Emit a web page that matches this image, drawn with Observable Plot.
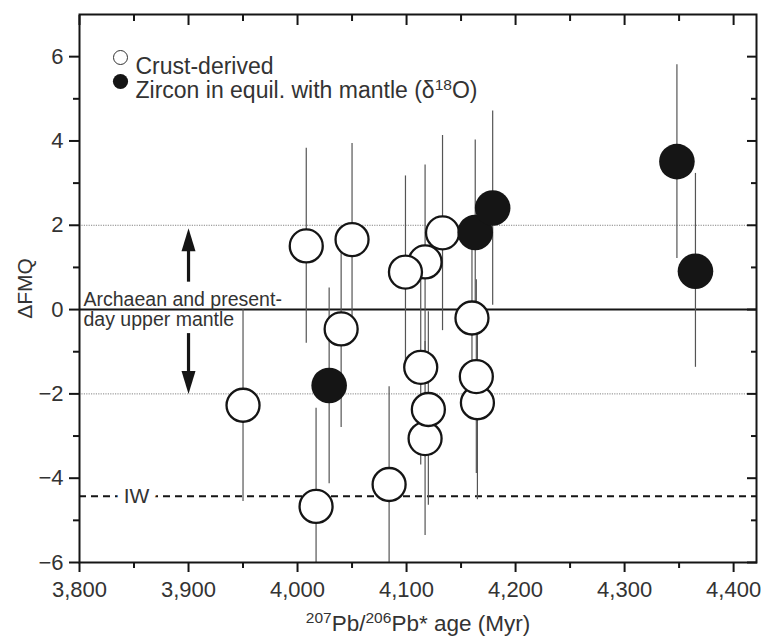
<!DOCTYPE html>
<html><head><meta charset="utf-8">
<script src="https://cdn.jsdelivr.net/npm/d3@7"></script>
<script src="https://cdn.jsdelivr.net/npm/@observablehq/plot@0.6"></script>
<style>body{margin:0;background:#fff}</style>
</head><body><div id="chart"></div>
<script>
// Crust-derived zircons (open circles), in drawing order
const crustAge = [3950, 4008, 4050, 4040, 4017, 4084, 4117, 4099, 4133, 4113, 4117, 4120, 4160, 4165, 4164];
const crustFMQ = [-2.27, 1.51, 1.66, -0.46, -4.67, -4.15, 1.13, 0.89, 1.82, -1.37, -3.06, -2.37, -0.20, -2.21, -1.59];
const crustLo  = [-4.55, -0.80, -0.70, -2.80, -7.0, -6.47, -1.17, -1.41, -0.50, -3.69, -5.36, -4.64, -2.48, -4.51, -3.89];
const crustHi  = [0.0, 3.83, 3.94, 1.83, -2.34, -1.83, 3.43, 3.17, 4.13, 0.95, -0.76, -0.05, 2.10, 0.09, 0.71];
// Zircons in equilibrium with mantle (filled circles)
const mantleAge = [4029, 4163, 4179, 4348, 4365];
const mantleFMQ = [-1.80, 1.83, 2.41, 3.51, 0.91];
const mantleLo  = [-4.13, -0.47, 0.10, 1.21, -1.37];
const mantleHi  = [0.51, 4.02, 4.71, 5.81, 3.23];
// Reference levels
const upperMantleLevel = 0;
const rangeLevels = [2, -2];
const iwLevel = -4.43;
const arrowAge = 3900;
const arrowUp = [0.65, 1.93];
const arrowDown = [-0.57, -2.0];
// Ticks
const xMajor = [3800, 3900, 4000, 4100, 4200, 4300, 4400];
const xMinor = [3850, 3950, 4050, 4150, 4250, 4350];
const yMajor = [-6, -4, -2, 0, 2, 4, 6];
const yMinor = [-5, -3, -1, 1, 3, 5];
const legendLabels = ["Crust-derived", "Zircon in equil. with mantle (δ^18^O)"];
const xLabel = "^207^Pb/^206^Pb* age (Myr)";
const yLabel = "ΔFMQ";
const annotation = "Archaean and present-\nday upper mantle";

const crust = crustAge.map((a, i) => ({age: a, fmq: crustFMQ[i], lo: crustLo[i], hi: crustHi[i]}));
const mantle = mantleAge.map((a, i) => ({age: a, fmq: mantleFMQ[i], lo: mantleLo[i], hi: mantleHi[i]}));
const all = crust.concat(mantle);

const headUp = {draw(c) { c.moveTo(0, 0); c.lineTo(7, 23); c.lineTo(-7, 23); c.closePath(); }};
const headDown = {draw(c) { c.moveTo(0, 0); c.lineTo(7, -23); c.lineTo(-7, -23); c.closePath(); }};
const minus = d => d < 0 ? "\u2212" + (-d) : String(d);
const ink = "#151515";

const chart = Plot.plot({
  width: 766, height: 640,
  marginLeft: 79, marginRight: 10, marginTop: 14, marginBottom: 78,
  x: {domain: [3800, 4421]},
  y: {domain: [-6, 7]},
  style: {fontFamily: "'Liberation Sans', Arial, sans-serif", fontSize: "22px", color: ink, background: "#fff"},
  marks: [
    Plot.ruleY(rangeLevels, {stroke: "#777", strokeWidth: 0.9, strokeDasharray: "1.2,1.2"}),
    Plot.ruleY([upperMantleLevel], {stroke: ink, strokeWidth: 2}),
    Plot.ruleY([iwLevel], {stroke: ink, strokeWidth: 2, strokeDasharray: "7,5"}),
    Plot.text(["IW"], {frameAnchor: "left", y: iwLevel, dx: 57, textAnchor: "middle", fill: "#333", stroke: "white", strokeWidth: 16, fontSize: 21}),
    Plot.text([annotation], {frameAnchor: "left", y: upperMantleLevel, dx: 4, textAnchor: "start", lineHeight: 1.05, fontSize: 19.5, fill: "#333"}),
    Plot.ruleX([arrowAge], {y1: arrowUp[0], y2: arrowUp[1] - 0.3, stroke: ink, strokeWidth: 3.2}),
    Plot.dot([arrowAge], {x: d => d, y: arrowUp[1], symbol: headUp, fill: ink, stroke: "none"}),
    Plot.ruleX([arrowAge], {y1: arrowDown[0], y2: arrowDown[1] + 0.3, stroke: ink, strokeWidth: 3.2}),
    Plot.dot([arrowAge], {x: d => d, y: arrowDown[1], symbol: headDown, fill: ink, stroke: "none"}),
    Plot.ruleX(all, {x: "age", y1: "lo", y2: "hi", stroke: "#555", strokeWidth: 1.2, clip: true}),
    Plot.dot(crust, {x: "age", y: "fmq", r: 16.5, fill: "white", stroke: ink, strokeWidth: 2.3}),
    Plot.dot(mantle, {x: "age", y: "fmq", r: 17.8, fill: ink, stroke: "none"}),
    // legend
    Plot.dot([0], {frameAnchor: "top-left", dx: 41, dy: 43, r: 7, fill: "white", stroke: "#333", strokeWidth: 1}),
    Plot.dot([0], {frameAnchor: "top-left", dx: 41, dy: 67, r: 7.6, fill: ink, stroke: "none"}),
    Plot.text([legendLabels[0]], {frameAnchor: "top-left", dx: 56, dy: 43, textAnchor: "start", fontSize: 23, fill: "#333"}),
    Plot.text([legendLabels[1]], {frameAnchor: "top-left", dx: 56, dy: 67, textAnchor: "start", fontSize: 23, fill: "#333"}),
    // axes
    Plot.axisX(xMajor, {anchor: "bottom", tickSize: 10, tickPadding: 9, tickFormat: d3.format(","), label: null, strokeWidth: 2, fill: "#333"}),
    Plot.axisX(xMinor, {anchor: "bottom", tickSize: 6, tickFormat: () => "", label: null, strokeWidth: 2}),
    Plot.axisX(xMajor, {anchor: "top", tickSize: 10, dy: 10, tickFormat: () => "", label: null, strokeWidth: 2}),
    Plot.axisX(xMinor, {anchor: "top", tickSize: 6, dy: 6, tickFormat: () => "", label: null, strokeWidth: 2}),
    Plot.axisY(yMajor, {anchor: "left", tickSize: 10, tickPadding: 6, tickFormat: minus, label: null, strokeWidth: 2, fill: "#333"}),
    Plot.axisY(yMinor, {anchor: "left", tickSize: 6, tickFormat: () => "", label: null, strokeWidth: 2}),
    Plot.axisY(yMajor, {anchor: "right", tickSize: 10, dx: -10, tickFormat: () => "", label: null, strokeWidth: 2}),
    Plot.axisY(yMinor, {anchor: "right", tickSize: 6, dx: -6, tickFormat: () => "", label: null, strokeWidth: 2}),
    Plot.frame({stroke: ink, strokeWidth: 2}),
    Plot.text([yLabel], {frameAnchor: "left", dx: -54, rotate: -90, textAnchor: "middle", fontSize: 21, fill: "#333"}),
    Plot.text([xLabel], {frameAnchor: "bottom", dy: 68, fontSize: 22.5, fill: "#333"})
  ]
});

// superscripts marked with ^...^
const NS = "http://www.w3.org/2000/svg";
chart.querySelectorAll("text, tspan").forEach(t => {
  if (t.children.length || !t.textContent.includes("^")) return;
  const parts = t.textContent.split("^");
  t.textContent = "";
  let raised = false;
  parts.forEach((p, i) => {
    if (!p) return;
    const s = document.createElementNS(NS, "tspan");
    s.textContent = p;
    if (i % 2 === 1) {
      s.setAttribute("font-size", "15.5");
      if (!raised) { s.setAttribute("dy", "-8"); raised = true; }
    } else if (raised) { s.setAttribute("dy", "8"); raised = false; }
    t.appendChild(s);
  });
});
document.getElementById("chart").appendChild(chart);
</script>
</body></html>
